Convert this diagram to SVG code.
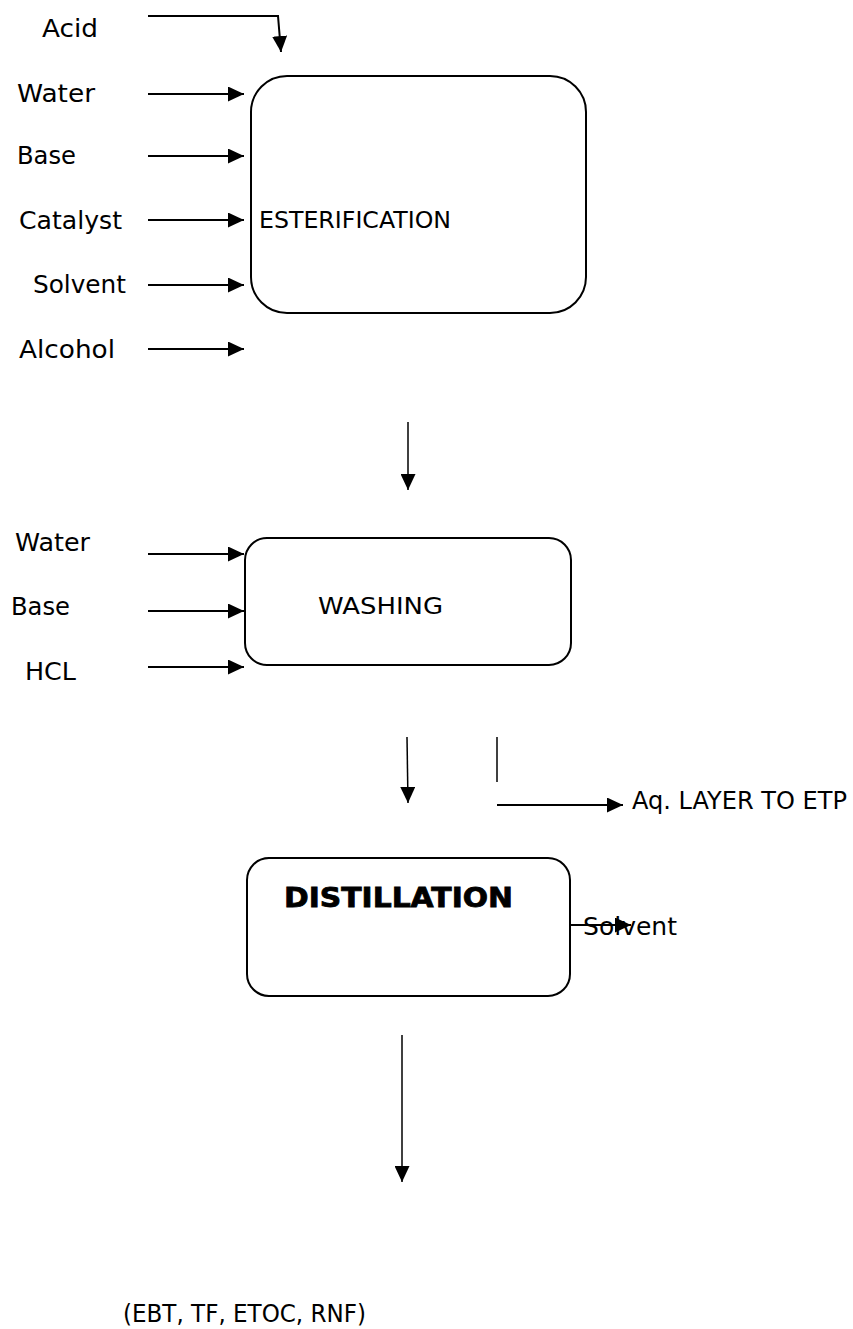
<svg xmlns="http://www.w3.org/2000/svg" width="853" height="1329" viewBox="0 0 853 1329">
<defs>
<marker id="ahs" markerWidth="16" markerHeight="15" refX="16" refY="7.5" orient="auto" markerUnits="userSpaceOnUse" viewBox="0 0 16 15">
<path d="M0,0 L16,7.5 L0,15 z" fill="#000"/>
</marker>
</defs>
<style>
text{font-family:"DejaVu Sans","Liberation Sans",sans-serif;font-size:24px;fill:#000}
.bt{font-size:22.5px}
.box{fill:#fff;stroke:#000;stroke-width:2}
.c{fill:none;stroke:#000;stroke-width:2;marker-end:url(#ahs)}
.l{fill:none;stroke:#000;stroke-width:1.5}
.bold{font-family:"DejaVu Sans","Liberation Sans",sans-serif;font-weight:900;font-size:27px;stroke:#000;stroke-width:0.8}
</style>
<g id="esterification">
<rect class="box" x="251" y="76" width="335" height="237" rx="36"/>
<text class="bt" x="259" y="228" textLength="192" lengthAdjust="spacingAndGlyphs">ESTERIFICATION</text>
</g>
<g id="washing">
<rect class="box" x="245" y="538" width="326" height="127" rx="22"/>
<text class="bt" x="318" y="614" textLength="125" lengthAdjust="spacingAndGlyphs">WASHING</text>
</g>
<g id="distillation">
<rect class="box" x="247" y="858" width="323" height="138" rx="22"/>
<text class="bold" x="284" y="907" textLength="229" lengthAdjust="spacingAndGlyphs">DISTILLATION</text>
</g>
<g id="labels">
<text x="42" y="37" textLength="56" lengthAdjust="spacingAndGlyphs">Acid</text>
<text x="17" y="102" textLength="78" lengthAdjust="spacingAndGlyphs">Water</text>
<text x="17" y="164" textLength="59" lengthAdjust="spacingAndGlyphs">Base</text>
<text x="19" y="229" textLength="103" lengthAdjust="spacingAndGlyphs">Catalyst</text>
<text x="33" y="293" textLength="93" lengthAdjust="spacingAndGlyphs">Solvent</text>
<text x="19" y="358" textLength="96" lengthAdjust="spacingAndGlyphs">Alcohol</text>
<text x="15" y="551" textLength="75" lengthAdjust="spacingAndGlyphs">Water</text>
<text x="11" y="615" textLength="59" lengthAdjust="spacingAndGlyphs">Base</text>
<text x="25" y="680" textLength="51" lengthAdjust="spacingAndGlyphs">HCL</text>
<text x="632" y="809" textLength="215" lengthAdjust="spacingAndGlyphs">Aq. LAYER TO ETP</text>
<text x="583" y="935" textLength="94" lengthAdjust="spacingAndGlyphs">Solvent</text>
<text x="123" y="1322" textLength="243" lengthAdjust="spacingAndGlyphs">(EBT, TF, ETOC, RNF)</text>
</g>
<g id="connectors">
<path class="c" d="M148,16 H278 L281,52"/>
<path class="c" d="M148,94 H244"/>
<path class="c" d="M148,156 H244"/>
<path class="c" d="M148,220 H244"/>
<path class="c" d="M148,285 H244"/>
<path class="c" d="M148,349 H244"/>
<path class="c" d="M408,422 V490" style="stroke-width:1.5"/>
<path class="c" d="M148,554 H244"/>
<path class="c" d="M148,611 H244"/>
<path class="c" d="M148,667 H244"/>
<path class="c" d="M407,737 L408,803" style="stroke-width:1.5"/>
<path class="l" d="M497,737 V782"/>
<path class="c" d="M497,805 H623"/>
<path class="c" d="M570,925 H631"/>
<path class="c" d="M402,1035 V1182" style="stroke-width:1.5"/>
</g>
</svg>
